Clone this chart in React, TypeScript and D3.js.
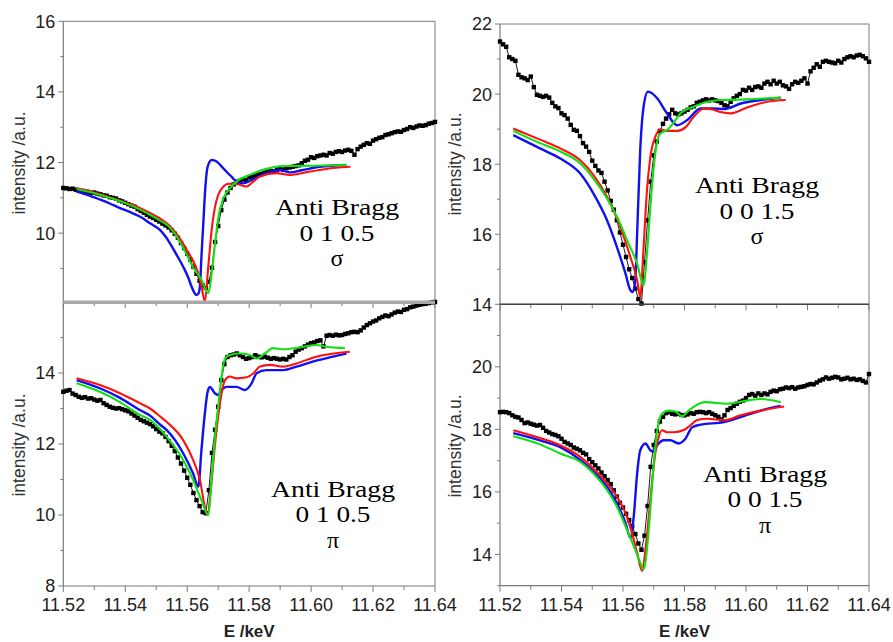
import React from "react";
import * as d3 from "d3";

type Pt = [number, number];

// ---------- axis values ----------
const E_START = 11.52;
const E_STEP = 0.001;
const xMajorTicks = [11.52, 11.54, 11.56, 11.58, 11.6, 11.62, 11.64];
const xMinorTicks = [11.53, 11.55, 11.57, 11.59, 11.61, 11.63];

// ---------- Anti Bragg 0 1 0.5, sigma ----------
const tlExp = [
  11.28, 11.27, 11.25, 11.26, 11.23, 11.21, 11.2, 11.18, 11.17, 11.14,
  11.15, 11.12, 11.1, 11.07, 11.06, 11.02, 11.0, 10.98, 10.93, 10.9,
  10.86, 10.82, 10.78, 10.75, 10.68, 10.63, 10.58, 10.52, 10.47, 10.43,
  10.38, 10.33, 10.27, 10.22, 10.16, 10.08, 9.98, 9.87, 9.72, 9.58,
  9.42, 9.25, 9.05, 8.85, 8.65, 8.52, 8.45, 8.62, 9.02, 9.75,
  10.2, 10.65, 10.95, 11.15, 11.28, 11.38, 11.46, 11.48, 11.52, 11.5,
  11.58, 11.6, 11.63, 11.66, 11.68, 11.72, 11.74, 11.76, 11.75, 11.8,
  11.82, 11.8, 11.84, 11.86, 11.88, 11.9, 11.92, 11.98, 12.05, 12.08,
  12.15, 12.13, 12.18, 12.2, 12.22, 12.2, 12.27, 12.25, 12.3, 12.32,
  12.3, 12.34, 12.36, 12.33, 12.22, 12.38, 12.45, 12.5, 12.55, 12.53,
  12.62, 12.66, 12.7, 12.72, 12.78, 12.8, 12.83, 12.86, 12.88, 12.87,
  12.92, 12.95, 13.0, 12.98, 13.02, 13.05, 13.04, 13.06, 13.1, 13.12,
  13.15,
];
const tlBlue: Pt[] = [
  [11.5243, 11.18], [11.528, 11.08], [11.5316, 10.96], [11.535, 10.84], [11.5383, 10.71],
  [11.5415, 10.6], [11.5447, 10.47], [11.548, 10.28], [11.5512, 10.09], [11.5544, 9.72],
  [11.5565, 9.4], [11.5587, 9.05], [11.5603, 8.75], [11.5614, 8.49], [11.5624, 8.3],
  [11.563, 8.25], [11.5637, 8.3], [11.5641, 8.49], [11.5646, 9.34], [11.5652, 10.28],
  [11.5658, 11.22], [11.5666, 11.88], [11.5679, 12.07], [11.5695, 12.03], [11.571, 11.9],
  [11.5727, 11.74], [11.5743, 11.6], [11.5759, 11.46], [11.5781, 11.41], [11.5813, 11.53],
  [11.5856, 11.7], [11.5899, 11.79], [11.5931, 11.72], [11.597, 11.78], [11.6028, 11.88],
  [11.6114, 11.93],
];
const tlRed: Pt[] = [
  [11.5243, 11.28], [11.53, 11.15], [11.535, 11.02], [11.54, 10.87], [11.545, 10.7],
  [11.548, 10.57], [11.5512, 10.42], [11.5544, 10.2], [11.5576, 9.85], [11.56, 9.5],
  [11.563, 9.0], [11.5645, 8.55], [11.5657, 8.06], [11.5668, 9.05], [11.5679, 10.09],
  [11.569, 10.75], [11.57, 11.08], [11.5717, 11.32], [11.5733, 11.4], [11.5759, 11.39],
  [11.5792, 11.32], [11.5812, 11.45], [11.5835, 11.6], [11.5888, 11.7], [11.5931, 11.65],
  [11.598, 11.72], [11.6028, 11.79], [11.608, 11.85], [11.6127, 11.88],
];
const tlGreen: Pt[] = [
  [11.5243, 11.25], [11.53, 11.13], [11.535, 11.0], [11.54, 10.85], [11.545, 10.66],
  [11.548, 10.52], [11.551, 10.37], [11.5545, 10.15], [11.5576, 9.76], [11.5598, 9.4],
  [11.5618, 9.05], [11.5646, 8.68], [11.5668, 8.3], [11.5679, 8.87], [11.569, 9.72],
  [11.5701, 10.47], [11.5717, 10.99], [11.5738, 11.27], [11.5759, 11.46], [11.5802, 11.65],
  [11.5856, 11.82], [11.591, 11.9], [11.6, 11.91], [11.6114, 11.93],
];

// ---------- Anti Bragg 0 0 1.5, sigma ----------
const trExp = [
  21.5, 21.42, 21.35, 21.05, 21.0, 20.95, 20.55, 20.48, 20.45, 20.4,
  20.5, 20.2, 19.98, 19.95, 19.92, 19.95, 19.9, 19.75, 19.65, 19.6,
  19.45, 19.4, 19.3, 19.12, 18.98, 18.95, 18.8, 18.6, 18.5, 18.35,
  18.1, 17.95, 17.82, 17.75, 17.5, 17.25, 16.95, 16.7, 16.4, 16.05,
  15.7, 15.35, 15.0, 14.75, 14.45, 14.15, 14.02, 15.2, 16.4, 17.5,
  18.25, 18.65, 18.95, 19.15, 19.3, 19.42, 19.55, 19.45, 19.42, 19.45,
  19.5, 19.55, 19.62, 19.65, 19.75, 19.78, 19.82, 19.85, 19.82, 19.85,
  19.82, 19.8, 19.75, 19.68, 19.65, 19.78, 19.88, 19.95, 20.0, 20.12,
  20.1, 20.18, 20.12, 20.2, 20.22, 20.18, 20.3, 20.35, 20.28, 20.38,
  20.3, 20.35, 20.25, 20.22, 20.15, 20.28, 20.35, 20.32, 20.38, 20.45,
  20.3, 20.65, 20.75, 20.85, 20.78, 20.92, 20.95, 20.92, 20.9, 20.88,
  20.95, 20.9, 21.0, 21.05, 21.08, 21.05, 21.1, 21.12, 21.08, 21.02,
  20.92,
];
const trBlue: Pt[] = [
  [11.5243, 18.83], [11.533, 18.45], [11.5396, 18.16], [11.5461, 17.73], [11.5504, 17.16],
  [11.5548, 16.4], [11.558, 15.64], [11.5608, 14.88], [11.5624, 14.4], [11.5632, 14.35],
  [11.564, 14.69], [11.5646, 16.02], [11.5656, 18.4], [11.5667, 19.64], [11.5681, 20.07],
  [11.5695, 20.02], [11.5711, 19.88], [11.5743, 19.45], [11.5776, 19.11], [11.5809, 19.26],
  [11.5852, 19.59], [11.5895, 19.59], [11.5928, 19.57], [11.5983, 19.73], [11.6048, 19.83],
  [11.6113, 19.9],
];
const trRed: Pt[] = [
  [11.5243, 19.02], [11.533, 18.7], [11.5396, 18.45], [11.5461, 18.11], [11.5504, 17.69],
  [11.5548, 17.07], [11.5591, 16.21], [11.5624, 15.35], [11.5646, 14.69], [11.5656, 14.21],
  [11.5667, 15.64], [11.5678, 17.26], [11.5689, 18.21], [11.5705, 18.78], [11.5722, 18.99],
  [11.5743, 18.95], [11.5776, 18.95], [11.5803, 19.05], [11.583, 19.35], [11.5863, 19.59],
  [11.5895, 19.55], [11.5917, 19.49], [11.595, 19.45], [11.6004, 19.62], [11.6069, 19.78],
  [11.6129, 19.83],
];
const trGreen: Pt[] = [
  [11.5243, 18.95], [11.533, 18.6], [11.5396, 18.36], [11.5461, 18.02], [11.5504, 17.59],
  [11.5548, 17.02], [11.5591, 16.3], [11.5613, 15.83], [11.5646, 15.16], [11.5667, 14.54],
  [11.5678, 15.45], [11.5689, 16.78], [11.57, 17.92], [11.5711, 18.64], [11.5722, 18.88],
  [11.5743, 18.97], [11.5771, 19.26], [11.5787, 19.45], [11.583, 19.64], [11.5874, 19.78],
  [11.592, 19.83], [11.6, 19.85], [11.6113, 19.9],
];

// ---------- Anti Bragg 0 1 0.5, pi ----------
const blExp = [
  13.47, 13.5, 13.52, 13.42, 13.38, 13.33, 13.3, 13.32, 13.28, 13.29,
  13.25, 13.22, 13.24, 13.15, 13.1, 13.05, 13.02, 13.0, 13.01, 12.98,
  12.95, 12.92, 12.86, 12.8, 12.74, 12.68, 12.64, 12.6, 12.56, 12.5,
  12.42, 12.35, 12.3, 12.2, 12.08, 11.95, 11.8, 11.62, 11.45, 11.25,
  11.05, 10.85, 10.62, 10.42, 10.25, 10.08, 10.05, 10.7, 11.75, 12.4,
  13.05, 13.8, 14.25, 14.45, 14.5, 14.52, 14.55, 14.5, 14.45, 14.4,
  14.42, 14.45, 14.5, 14.46, 14.44, 14.46, 14.43, 14.4, 14.42, 14.4,
  14.38, 14.4, 14.38, 14.45, 14.5, 14.6, 14.66, 14.7, 14.75, 14.8,
  14.84, 14.86, 14.9, 14.92, 14.75, 15.05, 15.07, 15.05, 15.08, 15.06,
  15.07, 15.1, 15.12, 15.15, 15.16, 15.15, 15.2, 15.28, 15.35, 15.4,
  15.45, 15.48, 15.54, 15.58, 15.62, 15.6, 15.65, 15.7, 15.73, 15.72,
  15.78, 15.8, 15.85, 15.87, 15.9, 15.92, 15.94, 15.95, 15.97, 15.99,
  16.0,
];
const blBlue: Pt[] = [
  [11.5243, 13.8], [11.5318, 13.57], [11.5383, 13.3], [11.5447, 12.96], [11.548, 12.8],
  [11.5512, 12.55], [11.5534, 12.39], [11.5587, 11.74], [11.5619, 11.17], [11.5636, 10.8],
  [11.5646, 11.83], [11.5657, 12.86], [11.5665, 13.43], [11.5673, 13.61], [11.5689, 13.43],
  [11.57, 13.38], [11.5711, 13.52], [11.5727, 13.61], [11.5759, 13.61], [11.5786, 13.52],
  [11.5808, 13.71], [11.5824, 13.99], [11.5856, 14.08], [11.591, 14.08], [11.5953, 14.18],
  [11.6017, 14.35], [11.6071, 14.46], [11.6114, 14.55],
];
const blRed: Pt[] = [
  [11.5243, 13.85], [11.5318, 13.66], [11.5383, 13.43], [11.5447, 13.15], [11.548, 13.0],
  [11.5512, 12.78], [11.5534, 12.62], [11.5587, 12.11], [11.5619, 11.55], [11.5641, 10.99],
  [11.5657, 10.23], [11.5665, 10.0], [11.5679, 10.99], [11.5689, 11.92], [11.57, 12.77],
  [11.5711, 13.43], [11.5722, 13.8], [11.5738, 13.9], [11.5759, 13.85], [11.5792, 13.88],
  [11.5813, 13.99], [11.5835, 14.18], [11.5867, 14.23], [11.591, 14.18], [11.5953, 14.27],
  [11.6017, 14.46], [11.6125, 14.6],
];
const blGreen: Pt[] = [
  [11.5243, 13.71], [11.5318, 13.47], [11.5383, 13.18], [11.5447, 12.82], [11.548, 12.68],
  [11.5512, 12.42], [11.5534, 12.2], [11.5587, 11.55], [11.5619, 10.99], [11.5646, 10.42],
  [11.5668, 10.0], [11.5679, 10.99], [11.5689, 12.11], [11.57, 13.05], [11.5711, 13.9],
  [11.5722, 14.41], [11.5738, 14.51], [11.577, 14.55], [11.5802, 14.51], [11.5824, 14.41],
  [11.5851, 14.55], [11.5877, 14.7], [11.591, 14.67], [11.5964, 14.72], [11.6017, 14.79],
  [11.6049, 14.74], [11.6109, 14.7],
];

// ---------- Anti Bragg 0 0 1.5, pi ----------
const brExp = [
  18.55, 18.56, 18.55, 18.52, 18.45, 18.4, 18.38, 18.3, 18.2, 18.22,
  18.18, 18.15, 18.12, 18.14, 18.05, 17.95, 17.9, 17.85, 17.82, 17.78,
  17.7, 17.6, 17.55, 17.5, 17.42, 17.38, 17.33, 17.25, 17.2, 17.05,
  16.95, 16.85, 16.75, 16.62, 16.5, 16.38, 16.25, 16.05, 15.85, 15.65,
  15.5, 15.3, 15.1, 14.9, 14.65, 14.35, 14.15, 14.6, 15.55, 16.8,
  17.5, 17.95, 18.25, 18.4, 18.52, 18.55, 18.5, 18.48, 18.5, 18.46,
  18.45, 18.48, 18.52, 18.5, 18.55, 18.56, 18.55, 18.52, 18.55, 18.5,
  18.45, 18.4, 18.32, 18.45, 18.62, 18.68, 18.75, 18.82, 18.88, 18.92,
  19.0, 19.1, 19.13, 19.08, 19.15, 19.1, 19.15, 19.12, 19.2, 19.24,
  19.22, 19.28, 19.3, 19.34, 19.32, 19.35, 19.3, 19.34, 19.36, 19.38,
  19.42, 19.45, 19.44, 19.5, 19.56, 19.6, 19.66, 19.62, 19.65, 19.68,
  19.66, 19.6, 19.62, 19.65, 19.6, 19.62, 19.58, 19.6, 19.55, 19.5,
  19.77,
];
const brBlue: Pt[] = [
  [11.5243, 17.88], [11.533, 17.65], [11.5396, 17.43], [11.5461, 17.02], [11.5504, 16.65],
  [11.5548, 16.17], [11.558, 15.64], [11.5608, 15.01], [11.5624, 14.53], [11.5635, 15.22],
  [11.5646, 16.59], [11.5656, 17.33], [11.5673, 17.55], [11.5689, 17.33], [11.5698, 17.29],
  [11.5711, 17.49], [11.5733, 17.65], [11.5754, 17.65], [11.5781, 17.55], [11.5803, 17.7],
  [11.5825, 18.07], [11.5852, 18.15], [11.5928, 18.23], [11.6015, 18.5], [11.6091, 18.71],
  [11.6113, 18.75],
];
const brRed: Pt[] = [
  [11.5243, 17.97], [11.533, 17.72], [11.5396, 17.49], [11.5461, 17.12], [11.5504, 16.75],
  [11.5548, 16.28], [11.558, 15.85], [11.5608, 15.32], [11.5629, 14.69], [11.5646, 14.05],
  [11.5662, 13.47], [11.5673, 14.16], [11.5684, 15.22], [11.5695, 16.38], [11.5705, 17.23],
  [11.5716, 17.76], [11.5727, 17.97], [11.5743, 17.91], [11.5765, 17.91], [11.5798, 17.98],
  [11.5819, 18.13], [11.5841, 18.3], [11.5874, 18.34], [11.5928, 18.29], [11.5983, 18.45],
  [11.6048, 18.6], [11.6124, 18.73],
];
const brGreen: Pt[] = [
  [11.5243, 17.78], [11.533, 17.52], [11.5396, 17.23], [11.5461, 16.96], [11.5504, 16.59],
  [11.5548, 16.06], [11.558, 15.53], [11.5613, 14.79], [11.5635, 14.27], [11.5656, 13.74],
  [11.5667, 13.52], [11.568, 14.37], [11.5691, 15.75], [11.5702, 17.12], [11.5713, 18.07],
  [11.5727, 18.5], [11.5749, 18.6], [11.5769, 18.58], [11.5792, 18.42], [11.5814, 18.6],
  [11.5836, 18.76], [11.5868, 18.87], [11.5939, 18.82], [11.6004, 18.92], [11.6048, 18.97],
  [11.6113, 18.87],
];

// ---------- annotations ----------
const tlNote = ["Anti Bragg", "0 1 0.5", "σ"];
const trNote = ["Anti Bragg", "0 0 1.5", "σ"];
const blNote = ["Anti Bragg", "0 1 0.5", "π"];
const brNote = ["Anti Bragg", "0 0 1.5", "π"];
const noteWidths = [124, 75, 0];
const noteSizes = [24, 24, 24];

// ---------- layout ----------
interface PanelCfg {
  key: string;
  left: number; right: number; top: number; bottom: number;
  yDomain: [number, number];
  yLabels: number[]; yMinor: number[];
  exp: number[]; blue: Pt[]; red: Pt[]; green: Pt[];
  note: string[]; noteX: number; noteY: number;
  titleX: number; titleY: number;
  isBottom: boolean;
}

const panels: PanelCfg[] = [
  { key: "tl", left: 63.3, right: 435, top: 21.3, bottom: 302, yDomain: [8.05, 16],
    yLabels: [10, 12, 14, 16], yMinor: [9, 11, 13, 15],
    exp: tlExp, blue: tlBlue, red: tlRed, green: tlGreen,
    note: tlNote, noteX: 337, noteY: 215, titleX: 25, titleY: 163, isBottom: false },
  { key: "tr", left: 500, right: 869, top: 24, bottom: 304.3, yDomain: [14, 22],
    yLabels: [14, 16, 18, 20, 22], yMinor: [15, 17, 19, 21],
    exp: trExp, blue: trBlue, red: trRed, green: trGreen,
    note: trNote, noteX: 757, noteY: 193.3, titleX: 461, titleY: 164, isBottom: false },
  { key: "bl", left: 63.3, right: 435, top: 302, bottom: 586, yDomain: [8, 16],
    yLabels: [8, 10, 12, 14], yMinor: [9, 11, 13, 15],
    exp: blExp, blue: blBlue, red: blRed, green: blGreen,
    note: blNote, noteX: 333, noteY: 496.7, titleX: 25, titleY: 445, isBottom: true },
  { key: "br", left: 500, right: 869, top: 304.3, bottom: 585.7, yDomain: [13, 22],
    yLabels: [14, 16, 18, 20], yMinor: [13, 15, 17, 19, 21],
    exp: brExp, blue: brBlue, red: brRed, green: brGreen,
    note: brNote, noteX: 765, noteY: 481.7, titleX: 461, titleY: 446, isBottom: true },
];

const FRAME = "#7a7a7a";
const TICK_FONT = "Liberation Sans, Arial, sans-serif";
const SERIF = "Liberation Serif, Times New Roman, serif";

function Panel({ p }: { p: PanelCfg }) {
  const x = d3.scaleLinear().domain([11.52, 11.64]).range([p.left, p.right]);
  const y = d3.scaleLinear().domain(p.yDomain).range([p.bottom, p.top]);
  const line = d3
    .line<Pt>()
    .x((d) => x(d[0]))
    .y((d) => y(d[1]))
    .curve(d3.curveMonotoneX);
  const expPts: Pt[] = p.exp.map((v, i) => [E_START + i * E_STEP, v]);
  const expLine = d3
    .line<Pt>()
    .x((d) => x(d[0]))
    .y((d) => y(d[1]));
  const sq = 4.4;

  return (
    <g>
      {/* frame */}
      <line x1={p.left} x2={p.right} y1={p.top} y2={p.top} stroke={FRAME} strokeWidth={1} />
      <line x1={p.right} x2={p.right} y1={p.top} y2={p.bottom} stroke={FRAME} strokeWidth={1} />
      <line x1={p.left} x2={p.left} y1={p.top} y2={p.bottom} stroke={FRAME} strokeWidth={1.2} />
      {p.isBottom && (
        <line x1={p.left} x2={p.right} y1={p.bottom} y2={p.bottom} stroke={FRAME} strokeWidth={1.2} />
      )}
      {/* y ticks */}
      {p.yLabels.map((v) => (
        <line key={"ym" + v} x1={p.left - 5} x2={p.left} y1={y(v)} y2={y(v)} stroke={FRAME} strokeWidth={1} />
      ))}
      {p.yMinor.map((v) => (
        <line key={"yn" + v} x1={p.left - 3} x2={p.left} y1={y(v)} y2={y(v)} stroke={FRAME} strokeWidth={1} />
      ))}
      {p.yLabels.map((v) => (
        <text key={"yl" + v} x={p.left - 8} y={y(v)} dy="0.36em" textAnchor="end"
          fontFamily={TICK_FONT} fontSize={18} fill="#222">{v}</text>
      ))}
      {/* x ticks: top of bottom panels point inward, bottom axis outward */}
      {p.isBottom && xMajorTicks.map((v) => (
        <g key={"xm" + v}>
          <line x1={x(v)} x2={x(v)} y1={p.top} y2={p.top + 6} stroke={FRAME} strokeWidth={1} />
          <line x1={x(v)} x2={x(v)} y1={p.bottom} y2={p.bottom + 6} stroke={FRAME} strokeWidth={1} />
          <text x={x(v)} y={p.bottom + 25} textAnchor="middle" fontFamily={TICK_FONT}
            fontSize={18} fill="#222">{v.toFixed(2)}</text>
        </g>
      ))}
      {p.isBottom && xMinorTicks.map((v) => (
        <g key={"xn" + v}>
          <line x1={x(v)} x2={x(v)} y1={p.top} y2={p.top + 4} stroke={FRAME} strokeWidth={1} />
          <line x1={x(v)} x2={x(v)} y1={p.bottom} y2={p.bottom + 4} stroke={FRAME} strokeWidth={1} />
        </g>
      ))}
      {/* y title */}
      <text transform={`translate(${p.titleX},${p.titleY}) rotate(-90)`} textAnchor="middle"
        fontFamily={TICK_FONT} fontSize={17.5} fill="#333">intensity /a.u.</text>
      {/* x title */}
      {p.isBottom && (
        <text x={x(11.58)} y={637} textAnchor="middle" fontFamily={TICK_FONT} fontSize={17}
          fontWeight="bold" fill="#222">E /keV</text>
      )}
      {/* experimental data */}
      <path d={expLine(expPts) || ""} fill="none" stroke="#000" strokeWidth={0.9} />
      {expPts.map((d, i) => (
        <rect key={"e" + i} x={x(d[0]) - sq / 2} y={y(d[1]) - sq / 2} width={sq} height={sq} fill="#000" />
      ))}
      {/* model curves */}
      <path d={line(p.blue) || ""} fill="none" stroke="#1010f0" strokeWidth={2.4} />
      <path d={line(p.red) || ""} fill="none" stroke="#ff1010" strokeWidth={2.1} />
      <path d={line(p.green) || ""} fill="none" stroke="#10e010" strokeWidth={2.1} />
      {/* annotation */}
      {p.note.map((t, i) => (
        <text key={"n" + i} x={p.noteX} y={p.noteY + i * 25.5} textAnchor="middle"
          fontFamily={SERIF} fontSize={noteSizes[i]} fill="#000"
          {...(noteWidths[i] > 0 ? { textLength: noteWidths[i], lengthAdjust: "spacingAndGlyphs" } : {})}>
          {t}
        </text>
      ))}
    </g>
  );
}

export default function App() {
  return (
    <svg width={893} height={642} viewBox="0 0 893 642"
      style={{ position: "absolute", left: 0, top: 0, background: "#fff" }}>
      <rect x={0} y={0} width={893} height={642} fill="#fff" />
      {panels.map((p) => (
        <Panel key={p.key} p={p} />
      ))}
      {/* junction lines between stacked panels */}
      <line x1={63.3} x2={435} y1={302.3} y2={302.3} stroke="#a8a8a8" strokeWidth={3.5} />
      <line x1={500} x2={869} y1={304.3} y2={304.3} stroke="#444" strokeWidth={1.5} />
    </svg>
  );
}
